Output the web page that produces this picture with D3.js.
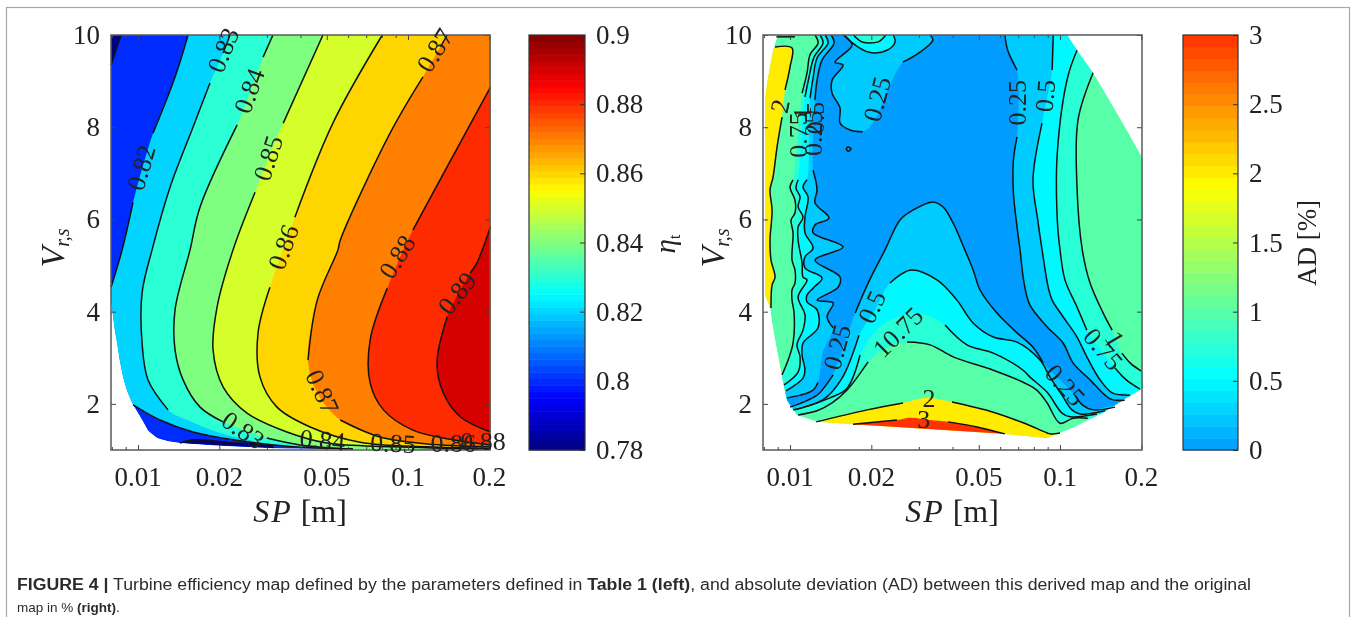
<!DOCTYPE html>
<html><head><meta charset="utf-8">
<script src="https://cdn.jsdelivr.net/npm/d3@7"></script>
<style>
html,body{margin:0;padding:0;background:#fff;overflow:hidden}
svg{display:block;filter:blur(.45px)}
text{font-family:"Liberation Serif",serif;fill:#222}
.cap{font-family:"Liberation Sans",sans-serif;font-size:16px;fill:#2b2b2b}
</style></head><body>
<script>
// All contour points are [SP in cm, V_r,s]; null marks a gap in the drawn line (under a label).
const xTicks=[0.01,0.02,0.05,0.1,0.2];
const xMinor=[0.008,0.009,0.03,0.04,0.06,0.07,0.08,0.09];
const yTicks=[2,4,6,8,10];
const etaTicks=[0.78,0.8,0.82,0.84,0.86,0.88,0.9];
const adTicks=[0,0.5,1,1.5,2,2.5,3];

// Left map
const envL=[[.794,10],[20.2,10],[20.2,1],[3.16,1.04],[1.9,1.1],[1.43,1.15],[1.29,1.19],[1.176,1.26],[1.09,1.42],[1.035,1.65],[.958,1.98],[.915,2.25],[.88,2.58],[.855,2.95],[.836,3.32],[.82,3.6],[.808,3.89],[.797,4.2],[.794,4.53]];
const c78a=[[.865,10],[.794,9.35]];
const c78b=[[1.43,1.15],[1.598,1.22],[2.136,1.17],[3.16,1.07],[3.16,1.04]];
const c82=[[1.532,10],[1.371,9.09],[1.136,7.87],null,[.958,6.37],[.873,5.34],[.794,4.53],null,[.76,3.89],[.76,2.58],null,[.958,1.98],[1.206,1.65],[1.598,1.39],[2.248,1.22],[3.75,1.07],[6.25,1.02]];
const c83=[[2.192,10],[2.065,9.61],null,[1.847,8.96],[1.598,8.0],[1.314,6.7],[1.127,5.34],[1.035,4.41],[1.035,3.32],[1.089,2.52],[1.292,1.87],null,[1.519,1.65],null,[1.962,1.39],null,[2.533,1.22],null,[3.75,1.07],null,[6.25,1.02]];
const c84=[[3.16,10],[2.905,9.52],null,[2.329,8.05],[1.697,6.27],[1.558,5.34],[1.371,4.04],[1.371,3.17],[1.468,2.52],[1.697,1.93],[2.065,1.61],null,[3.0,1.26],[3.98,1.11],[6.25,1.02]];
const c85=[[4.84,10],[3.45,8.09],null,[2.713,6.59],[2.248,5.34],[1.962,4.1],[1.896,3.17],[2.065,2.37],[2.533,1.8],[3.56,1.39],[5.01,1.15],[8.8,1.07],[20.2,1.02]];
const c86=[[8.03,10],[5.27,8.09],[3.81,6.05],null,[3.08,4.53],[2.783,3.54],[2.83,2.58],[3.27,1.93],[4.34,1.5],[6.64,1.17],[11.76,1.07],[20.2,1.04]];
const c87=[[13.96,10],[13.2,9.75],null,[11.36,9.09],[8.58,7.87],[5.61,5.55],[5.5,5.34],[4.61,4.25],[4.26,2.95],null,[4.61,2.24],null,[5.61,1.65],[7.88,1.28],[11.76,1.13],[20.2,1.07]];
const c88=[[20.2,8.87],[10.42,5.77],null,[8.38,4.51],[7.24,3.39],[7.24,2.45],[8.11,1.87],[10.42,1.43],[14.7,1.22],[20.2,1.11]];
const c89=[[20.2,5.84],[18,5.06],[17,4.84],null,[13.96,3.89],[12.8,2.89],[13.5,2.24],[15.6,1.72],[20.2,1.39]];
const labelsL=[["0.82",1.026,7.12,-74],["0.83",2.065,9.67,-68],["0.84",2.58,8.79,-70],["0.85",3.03,7.33,-72],["0.86",3.45,5.4,-70],["0.87",12.57,9.67,-58],["0.88",9.1,5.19,-58],["0.89",15.2,4.4,-52],["0.87",4.82,2.26,65],["0.83",2.45,1.43,35],["0.84",4.82,1.22,5],["0.85",8.8,1.15,3],["0.86",14.7,1.15,0],["0.88",18.97,1.2,0]];

// Right map
const envR=[[.90,10],[10.61,10],[11.56,9.67],[13.26,9.18],[16.25,8.31],[20.2,7.33],[20.2,2.34],[17.6,2.13],[14.35,1.8],[11.17,1.48],[10,1.37],[8.96,1.26],[6.15,1.35],[1.711,1.56],[1.259,1.61],[1.061,1.76],[.975,2.08],[.934,2.58],[.858,3.75],[.843,4.08],[.808,4.36],[.808,8.59],[.822,8.96],[.865,9.67]];
const a2strip=[[.88,9.74],[1.017,9.72],[1,9.31],[.958,8.81],null,[.934,8.22],[.895,7.57],[.865,6.92],[.843,6.64],[.858,6.2],[.843,5.55],[.85,5.12],[.88,4.75],[.858,4.58],[.85,4.08]];
const a2stripClose=[[.79,4.08],[.79,9.74]];
const a1=[[1.237,10],[1.27,9.83],[1.186,9.57],[1.156,9.18],[1.108,8.74],null,[1.026,6.86],[1,6.7],[1.043,6.42],[1.043,6.14],[1.009,5.99],[1.026,5.71],[1.017,5.12],[1.043,4.9],[1.043,4.62],[1.017,4.47],[1.017,4.25],[1.035,3.97],[1.026,3.32],[.975,2.89],[.934,2.63],null,[.79,1],null,[1.071,1.76],[1.259,1.85],[1.431,2.02],[1.626,2.3],[1.946,2.91],null,[2.21,3.17],null,[2.713,3.34],[3.3,3.28],[4.02,3.02],[5.66,2.73],[7.3,2.47],[8.2,2.3],[8.96,2.02],[10,1.58],[11.17,1.69],[12.67,1.69],null,[20.2,1],null,[20,2.71],[18.17,2.89],[16.95,3.1],null,[15.6,3.6],[14.45,3.97],[12.92,4.62],[12.09,5.34],[11.56,6.7],[11.66,8.16],[13.26,9.18],null,[20.2,10]];
const a075=[[1.292,10],[1.325,9.83],[1.227,9.52],[1.176,9.09],[1.136,8.66],null,[1.071,6.86],[1.052,6.68],[1.089,6.49],[1.071,6.27],[1.117,6.05],[1.071,5.84],[1.071,5.55],[1.108,5.06],[1.117,4.75],[1.156,4.69],[1.071,4.32],[1.136,3.93],[1.117,3.6],[1.061,3.28],[1.089,3.02],[1.071,2.69],[.95,2.41],null,[.79,1],null,[1.043,1.87],[1.407,2.13],[1.626,2.34],[1.817,3.06],null,[2.154,3.67],null,[2.94,3.97],null,[3.75,3.71],[4.52,3.28],[5.66,3.1],[7.3,2.73],[7.74,2.58],[8.96,2.25],[10.17,1.8],[10.89,1.72],[13.7,1.78],null,[20.2,1],null,[19.79,2.32],[17.6,2.52],[15.98,2.78],null,[12.57,3.6],[11.56,4.1],[10.43,4.69],[10,5.34],[9.77,5.99],[9.77,7.44],[10.68,9.09],[11.56,9.67],null,[20.2,10]];
const a05=[[1.348,10],[1.383,9.83],[1.259,9.5],[1.217,9.07],[1.186,8.63],null,[1.156,6.86],[1.117,6.7],[1.166,6.49],[1.136,6.05],[1.136,5.71],[1.217,5.38],[1.136,5.19],[1.136,4.95],[1.314,4.73],[1.217,4.51],[1.156,4.36],[1.156,4.21],[1.259,4.04],[1.27,3.65],[1.117,3.32],[1.108,3.06],[1.136,2.74],[1.117,2.56],[.966,2.28],null,[.79,1],null,[1.026,1.87],[1.325,2.09],[1.558,2.56],[1.8,3.49],null,[2.065,4.04],null,[2.346,4.62],[2.783,4.9],[3.5,4.69],[4.15,4.25],[4.77,3.75],[5.66,3.45],[6.93,3.34],[8.43,2.95],[9.18,2.58],[10.17,2.19],[11.07,1.87],[11.86,1.78],[14.68,1.85],null,[20.2,1],null,[18.17,2.19],[15.6,2.24],[14.07,2.52],[12.57,3.02],[11.56,3.45],[10.26,3.89],[9.35,4.25],[9.04,4.53],[8.58,5.34],[8.27,5.99],[7.94,6.86],[8.58,8.09],null,[9.35,9.24],[9.44,10]];
const a025=[[1.419,10],[1.456,9.83],[1.314,9.46],[1.259,9.02],[1.237,8.59],null,[1.217,7.07],[1.259,6.64],[1.237,6.36],[1.394,6.03],[1.237,5.88],[1.217,5.71],[1.572,5.4],[1.237,5.12],[1.532,4.75],[1.507,4.53],[1.259,4.25],[1.444,4.19],[1.371,3.89],[1.444,3.65],null,[1.325,3.13],null,[1.27,2.47],[1.217,2.3],[1.089,2.19],[.975,2.13],null,[.79,1],null,[1,1.93],[1.259,2.19],[1.383,2.47],[1.444,2.63],null,[1.743,3.97],[1.946,4.62],[2.248,5.34],[2.555,5.99],[2.85,6.2],[3.38,6.38],[3.69,6.27],[4.02,5.92],[4.44,5.34],[4.77,4.9],[5.055,4.47],[5.84,3.97],[6.93,3.54],[7.94,3.23],[8.66,2.89],null,[11.36,2.19],[12.09,1.98],[13.26,1.87],[15.98,1.93],null,[20.2,1],null,[17.35,2.08],[15.32,2.11],[12.92,2.52],[11.17,2.89],[10.26,3.32],[8.96,3.67],[7.74,4.14],[7.36,4.62],[7.11,5.34],[6.93,5.84],[6.72,6.57],[6.72,7.29],[6.93,7.79],null,[6.93,9.24],[6.4,9.67],[6.25,10]];
const lobe025=[[1.572,10],[1.698,9.78],[1.468,9.41],[1.572,9.35],[1.431,9.02],[1.431,8.74],[1.532,8.42],[1.532,8.09],[1.668,7.94],[1.86,7.9],null,[2.03,8.09],null,[2.346,8.92],null,[2.62,9.41],[3.03,9.63],[3.38,9.89],[3.3,10]];
const lobe05=[[1.6,10],[1.626,9.93],[1.946,9.63],[2.287,9.67],[2.45,9.85],[2.41,10]];
const lobe075=[[1.72,10],[1.743,9.96],[1.847,9.85],[2.12,9.85],[2.248,9.98],[2.26,10]];
const dot=[[1.612,7.53],[1.64,7.57],[1.683,7.53],[1.64,7.48],[1.612,7.53]];
const topMark=[[.89,9.96],[1.043,9.96]];
const a2low=[[1.25,1.61],[1.93,1.87],[2.62,2.02],null,[3.16,2.13],null,[3.98,2.04],[5.66,1.82],[7.3,1.59],[8.96,1.37],[9.18,1.35],[10,1.37]];
const a2lowClose=[[8.96,1.2],[1.25,1.5]];
const a3low=[[1.711,1.56],[2.49,1.65],null,[2.783,1.7],null,[3.3,1.65],null,[3.85,1.61],[4.93,1.5],[6.25,1.35]];
const a3lowClose=[[6.25,1.2],[1.711,1.4]];
const labelsR=[["2",.918,8.46,-78],["1",1.108,8.31,-90],["0.75",1.071,7.83,-90],["0.5",1.237,8.2,-90],["0.25",1.217,7.87,-90],["0.25",2.1,8.61,-75],["0.25",6.93,8.53,-90],["0.5",8.8,8.68,-85],["0.25",1.493,3.23,-75],["0.5",2.01,4.1,-65],["10.75",2.51,3.56,-45],["0.75",14.45,3.19,50],["1",15.98,3.41,60],["0.25",10.43,2.41,48],["2",3.27,2.13,0],["3",3.13,1.67,0]];

const W=1357,H=617;
const svg=d3.select("body").append("svg").attr("width",W).attr("height",H);
svg.append("rect").attr("x",6.5).attr("y",7.5).attr("width",1343).attr("height",H+20).attr("fill","none").attr("stroke","#a8a8a8").attr("stroke-width",1.2);

const jet=d3.scaleLinear().domain([0,.125,.375,.625,.875,1]).range(["#000080","#0000ff","#00ffff","#ffff00","#ff0000","#800000"]);
const tEta=d3.scaleLinear().domain([.78,.9]).range([0,1]);
const tAD=d3.scaleLinear().domain([0,3]).range([.278,.826]);
const colEta=v=>jet(tEta(v)), colAD=v=>jet(tAD(v));
const yS=d3.scaleLinear().domain([1,10]).range([450,35]);
const xL=d3.scaleLog().domain([.00794,.2012]).range([111,490]);
const xR=d3.scaleLog().domain([.00794,.2012]).range([763,1142]);

function panel(xs,id,env,layers,lines,labels,ylx,xlx){
  const g=svg.append("g");
  const P=d=>[xs(d[0]/100),yS(d[1])];
  const lin=d3.line().x(d=>P(d)[0]).y(d=>P(d)[1]).defined(d=>d).curve(d3.curveCatmullRom.alpha(.5));
  const poly=(pts,close)=>{const a=pts.filter(d=>d);
    return d3.line().x(d=>P(d)[0]).y(d=>P(d)[1]).curve(d3.curveCatmullRom.alpha(.5))(a)+(close||[]).map(p=>"L"+P(p).join(",")).join("")+"Z";};
  const plain=d3.line().x(d=>P(d)[0]).y(d=>P(d)[1]);
  svg.append("clipPath").attr("id",id).append("path").attr("d",plain(env)+"Z");
  const fills=g.append("g").attr("clip-path",`url(#${id})`);
  layers.forEach(l=>fills.append("path").attr("d",poly(l.pts,l.close)).attr("fill",l.color));
  const ls=g.append("g").attr("fill","none").attr("stroke","#111").attr("stroke-width",1.5);
  lines.forEach(l=>ls.append("path").attr("d",lin(l)));
  const [x0,x1]=xs.range();
  [[450,1],[35,-1]].forEach(([y,s])=>{
    g.append("g").attr("transform",`translate(0,${y})`).call(d3.axisBottom(xs).tickValues(xTicks).tickSize(-5*s).tickFormat("")).call(a=>a.select(".domain").remove()).selectAll("line").attr("stroke","#444");
    g.append("g").attr("transform",`translate(0,${y})`).call(d3.axisBottom(xs).tickValues(xMinor.filter(v=>v>=xs.domain()[0])).tickSize(-3*s).tickFormat("")).call(a=>a.select(".domain").remove()).selectAll("line").attr("stroke","#444");
  });
  g.append("g").attr("transform",`translate(${x0},0)`).call(d3.axisLeft(yS).tickValues(yTicks).tickSize(-5).tickFormat("")).call(a=>a.select(".domain").remove()).selectAll("line").attr("stroke","#444");
  g.append("g").attr("transform",`translate(${x1},0)`).call(d3.axisLeft(yS).tickValues(yTicks).tickSize(5).tickFormat("")).call(a=>a.select(".domain").remove()).selectAll("line").attr("stroke","#444");
  g.append("rect").attr("x",x0).attr("y",35).attr("width",x1-x0).attr("height",415).attr("fill","none").attr("stroke","#5a5a5a").attr("stroke-width",1.5);
  xTicks.forEach(v=>g.append("text").attr("x",xs(v)).attr("y",486).attr("text-anchor","middle").attr("font-size",27).text(v));
  yTicks.forEach(v=>g.append("text").attr("x",x0-11).attr("y",yS(v)+9).attr("text-anchor","end").attr("font-size",27).text(v));
  const xt=g.append("text").attr("x",xlx).attr("y",522).attr("text-anchor","middle").attr("font-size",32);
  xt.append("tspan").attr("font-style","italic").attr("letter-spacing",2).text("SP");
  xt.append("tspan").text(" [m]");
  const yt=g.append("text").attr("transform",`translate(${ylx},248) rotate(-90)`).attr("text-anchor","middle").attr("font-size",34);
  yt.append("tspan").attr("font-style","italic").text("V");
  yt.append("tspan").attr("font-style","italic").attr("font-size",20).attr("dy",5).text("r,s");
  const lb=g.append("g");
  labels.forEach(d=>{const p=P([d[1],d[2]]);
    lb.append("text").attr("transform",`translate(${p[0]},${p[1]}) rotate(${d[3]})`).attr("text-anchor","middle").attr("dy","0.34em").attr("font-size",26).attr("fill","#111").text(d[0]);});
}

panel(xL,"clipL",envL,[
 {pts:envL,color:colEta(.80)},
 {pts:c78a,close:[[.794,10]],color:colEta(.78)},
 {pts:c78b,color:colEta(.78)},
 {pts:c82,close:[[20.2,1],[20.2,10]],color:colEta(.82)},
 {pts:c83,close:[[20.2,1],[20.2,10]],color:colEta(.83)},
 {pts:c84,close:[[20.2,1],[20.2,10]],color:colEta(.84)},
 {pts:c85,close:[[20.2,10]],color:colEta(.85)},
 {pts:c86,close:[[20.2,10]],color:colEta(.86)},
 {pts:c87,close:[[20.2,10]],color:colEta(.87)},
 {pts:c88,color:colEta(.88)},
 {pts:c89,color:colEta(.89)}
],[c78a,c78b,c82.slice(0,7),c82.slice(11),c83,c84,c85,c86,c87,c88,c89],labelsL,64,300);

panel(xR,"clipR",envR,[
 {pts:envR,color:colAD(1)},
 {pts:a1,color:colAD(.75)},
 {pts:a075,color:colAD(.5)},
 {pts:a05,color:colAD(.25)},
 {pts:a025,color:colAD(0)},
 {pts:lobe025,color:colAD(.25)},
 {pts:lobe05,color:colAD(.5)},
 {pts:lobe075,color:colAD(.75)},
 {pts:a2strip,close:a2stripClose,color:colAD(2)},
 {pts:a2low,close:a2lowClose,color:colAD(2)},
 {pts:a3low,close:a3lowClose,color:colAD(3)}
],[a2strip,a1,a075,a05,a025,lobe025,lobe05,lobe075,a2low,a3low,dot,topMark],labelsR,724,952);

function colorbar(x,w,dom,n,col,ticks){
  const s=d3.scaleLinear().domain(dom).range([450,35]);
  const g=svg.append("g");
  const step=(dom[1]-dom[0])/n;
  g.selectAll("rect.b").data(d3.range(n)).join("rect").attr("class","b")
    .attr("x",x).attr("width",w).attr("y",i=>s(dom[0]+(i+1)*step)).attr("height",i=>s(dom[0]+i*step)-s(dom[0]+(i+1)*step)+.5)
    .attr("fill",i=>col(dom[0]+(i+.5)*step));
  g.append("rect").attr("x",x).attr("y",35).attr("width",w).attr("height",415).attr("fill","none").attr("stroke","#333").attr("stroke-width",1.2);
  g.append("g").attr("transform",`translate(${x+w},0)`).call(d3.axisLeft(s).tickValues(ticks).tickSize(5).tickFormat("")).call(a=>a.select(".domain").remove()).selectAll("line").attr("stroke","#333");
  ticks.forEach(v=>g.append("text").attr("x",x+w+11).attr("y",s(v)+9).attr("font-size",27).text(v));
}
colorbar(529,56,[.78,.9],64,colEta,etaTicks);
colorbar(1183,55,[0,3],35,colAD,adTicks);

const et=svg.append("text").attr("transform","translate(675,244) rotate(-90)").attr("text-anchor","middle").attr("font-size",29);
et.append("tspan").attr("font-style","italic").text("η");
et.append("tspan").attr("font-size",17).attr("dy",5).text("t");
svg.append("text").attr("transform","translate(1316,243) rotate(-90)").attr("text-anchor","middle").attr("font-size",27).text("AD [%]");

const cap1=svg.append("text").attr("class","cap").attr("x",17).attr("y",590).attr("textLength",1234).attr("lengthAdjust","spacingAndGlyphs");
cap1.append("tspan").attr("font-weight","bold").text("FIGURE 4 |");
cap1.append("tspan").text(" Turbine efficiency map defined by the parameters defined in ");
cap1.append("tspan").attr("font-weight","bold").text("Table 1 (left)");
cap1.append("tspan").text(", and absolute deviation (AD) between this derived map and the original");
const cap2=svg.append("text").attr("class","cap").attr("x",17).attr("y",612).style("font-size","13.5px");
cap2.append("tspan").text("map in % ");
cap2.append("tspan").attr("font-weight","bold").text("(right)");
cap2.append("tspan").text(".");
</script>
</body></html>
